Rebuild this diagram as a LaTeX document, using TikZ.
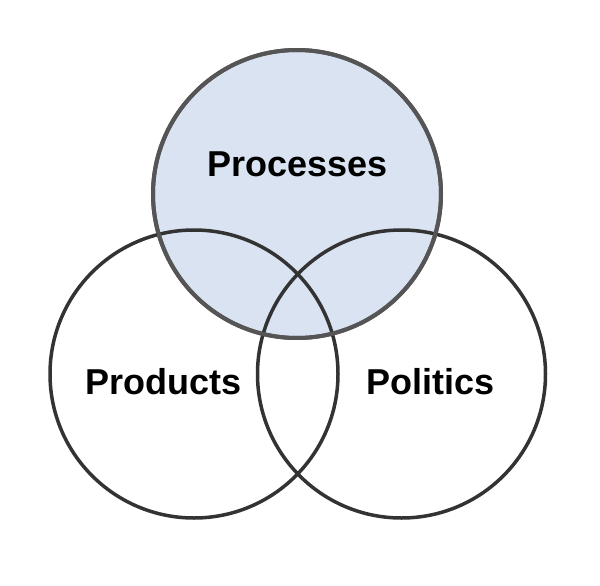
\documentclass[tikz,border=0pt]{standalone}
\usepackage{fontspec}
\setmainfont{Liberation Sans}
\definecolor{procfill}{HTML}{DAE3F1}
\definecolor{procline}{HTML}{555555}
\definecolor{ringline}{HTML}{333333}
\begin{document}
\begin{tikzpicture}[x=1pt,y=-1pt,
  ring/.style={circle,minimum size=288pt,inner sep=0pt,line width=3.5pt,draw=ringline},
  label/.style={font=\fontsize{36}{40}\selectfont\bfseries,text=black,inner sep=0pt}]
\useasboundingbox (0,0) rectangle (600,586);
\node[ring,fill=procfill,draw=procline,line width=4pt] (proc) at (297,194) {};
\node[ring] (prod) at (194,374) {};
\node[ring] (poli) at (401.5,374) {};
\draw[procline,line width=4pt] (proc.center) circle[radius=144pt];
\node[label] (tproc) at (297.5,164.5) {Processes};
\node[label] (tprod) at (163.5,382) {Products};
\node[label] (tpoli) at (430.5,382) {Politics};
\end{tikzpicture}
\end{document}
